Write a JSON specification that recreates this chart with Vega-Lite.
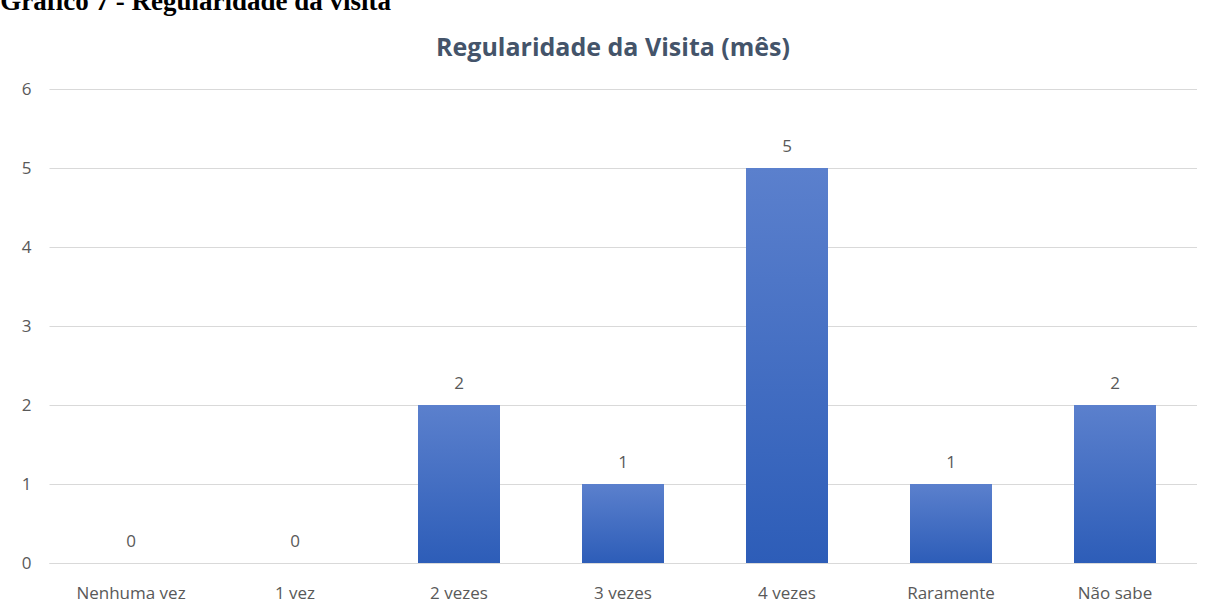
{
  "$schema": "https://vega.github.io/schema/vega-lite/v6.json",
  "padding": {"left": 0, "top": -12, "right": 0, "bottom": 6},
  "background": "white",
  "title": {
    "text": "Gráfico 7 - Regularidade da visita",
    "anchor": "start",
    "frame": "bounds",
    "font": "Liberation Serif",
    "fontSize": 27,
    "fontWeight": "bold",
    "color": "#000000",
    "dx": -21,
    "offset": 20
  },
  "vconcat": [
    {
      "width": 1148,
      "height": 474,
      "title": {
        "text": "Regularidade da Visita (mês)",
        "font": "Open Sans",
        "fontSize": 25,
        "fontWeight": "bold",
        "color": "#44546a",
        "offset": 19,
        "dx": -10
      },
      "data": {
        "values": [
          {"categoria": "Nenhuma vez", "quantidade": 0},
          {"categoria": "1 vez", "quantidade": 0},
          {"categoria": "2 vezes", "quantidade": 2},
          {"categoria": "3 vezes", "quantidade": 1},
          {"categoria": "4 vezes", "quantidade": 5},
          {"categoria": "Raramente", "quantidade": 1},
          {"categoria": "Não sabe", "quantidade": 2}
        ]
      },
      "encoding": {
        "x": {
          "field": "categoria",
          "type": "nominal",
          "sort": null,
          "scale": {"paddingInner": 0.5, "paddingOuter": 0.25},
          "axis": {
            "title": null,
            "labelAngle": 0,
            "ticks": false,
            "domain": true,
            "domainColor": "#d9d9d9",
            "labelPadding": 22,
            "labelFont": "Open Sans",
            "labelFontSize": 17,
            "labelColor": "#595959"
          }
        },
        "y": {
          "field": "quantidade",
          "type": "quantitative",
          "scale": {"domain": [0, 6]},
          "axis": {
            "title": null,
            "values": [0, 1, 2, 3, 4, 5, 6],
            "ticks": false,
            "domain": false,
            "gridColor": "#d9d9d9",
            "labelPadding": 18,
            "labelFont": "Open Sans",
            "labelFontSize": 17,
            "labelColor": "#595959"
          }
        }
      },
      "layer": [
        {
          "mark": {
            "type": "bar",
            "color": {
              "gradient": "linear",
              "x1": 0, "y1": 0, "x2": 0, "y2": 1,
              "stops": [
                {"offset": 0, "color": "#5b80cd"},
                {"offset": 1, "color": "#2d5db8"}
              ]
            }
          }
        },
        {
          "mark": {
            "type": "text",
            "dy": -21,
            "baseline": "middle",
            "font": "Open Sans",
            "fontSize": 17,
            "color": "#595959"
          },
          "encoding": {"text": {"field": "quantidade", "type": "quantitative"}}
        }
      ]
    }
  ],
  "config": {"view": {"stroke": null}}
}
